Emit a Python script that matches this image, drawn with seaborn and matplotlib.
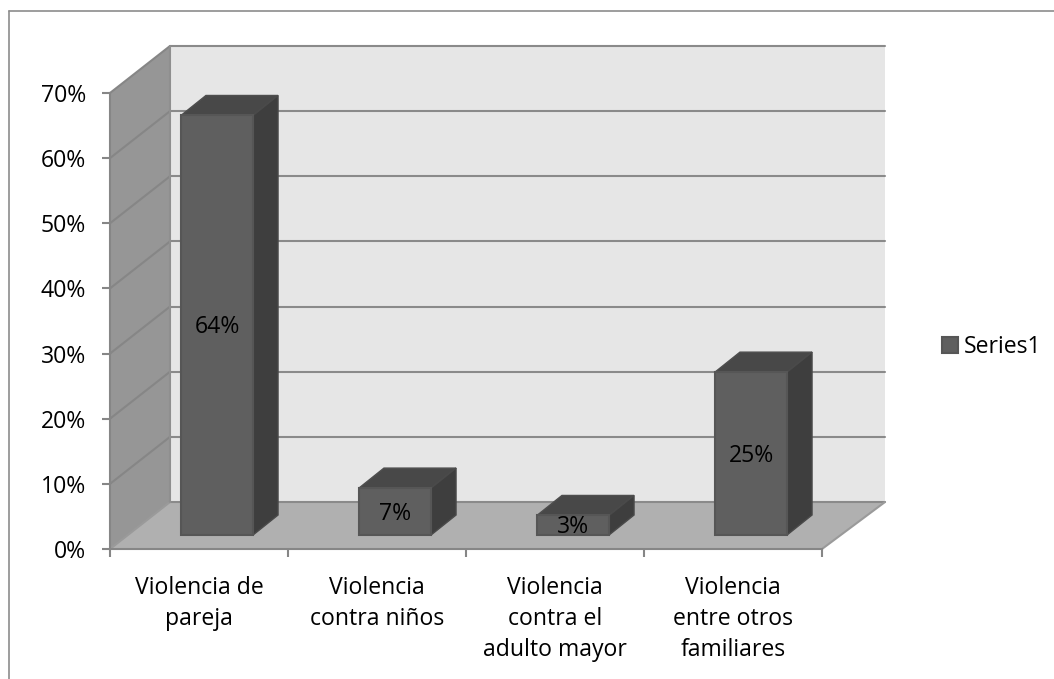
import matplotlib
matplotlib.use("Agg")
import matplotlib.pyplot as plt
import matplotlib.transforms as mtrans
from matplotlib.patches import Polygon
import seaborn as sns

categories = ["Violencia de\npareja", "Violencia\ncontra niños",
              "Violencia\ncontra el\nadulto mayor", "Violencia\nentre otros\nfamiliares"]
values = [0.644, 0.072, 0.03, 0.25]
y_ticks = [0, 0.1, 0.2, 0.3, 0.4, 0.5, 0.6, 0.7]
y_labels = ["0%", "10%", "20%", "30%", "40%", "50%", "60%", "70%"]
series_name = "Series1"

sns.set_style("white")
plt.rcParams["font.family"] = ["Open Sans", "DejaVu Sans"]

W, H = 1054, 679
# pixel offsets of the fake 3d look
WALL_DX, WALL_DX_R, WALL_DY = 60, 63, 47
BAR_DX, BAR_DY = 18, 14
DEPTH_DX, DEPTH_DY = 25, 20
FONT = 16.6

fig = plt.figure(figsize=(W / 100, H / 100), dpi=100)
ax = fig.add_axes([110 / W, (H - 549) / H, 712 / W, 456 / H])

sns.barplot(x=categories, y=values, color="#5f5f5f", saturation=1, width=0.405,
            label=series_name, edgecolor="#565656", linewidth=1.5, ax=ax, zorder=5)
ax.set_xlim(-0.5, 3.5)
ax.set_ylim(0, 0.7)
ax.patch.set_visible(False)


def px(x, y, dx=0, dy=0):
    p = ax.transData.transform((x, y))
    return (p[0] + dx, p[1] + dy)


def add_poly(points, color, z, edge="none"):
    fig.add_artist(Polygon(points, closed=True, facecolor=color, edgecolor=edge, linewidth=1,
                           transform=mtrans.IdentityTransform(), zorder=z))


def add_line(p0, p1, color="#8a8a8a", lw=1.5, z=-4):
    fig.add_artist(plt.Line2D([p0[0], p1[0]], [p0[1], p1[1]], color=color, linewidth=lw,
                              transform=mtrans.IdentityTransform(), zorder=z))


x0, x1 = -0.5, 3.5
# walls and floor
add_poly([px(x0, 0, WALL_DX, WALL_DY), px(x1, 0, WALL_DX_R, WALL_DY),
          px(x1, 0.7, WALL_DX_R, WALL_DY), px(x0, 0.7, WALL_DX, WALL_DY)], "#e6e6e6", -7)
add_poly([px(x0, 0), px(x0, 0.7), px(x0, 0.7, WALL_DX, WALL_DY), px(x0, 0, WALL_DX, WALL_DY)],
         "#969696", -6)
add_poly([px(x0, 0), px(x1, 0), px(x1, 0, WALL_DX_R, WALL_DY), px(x0, 0, WALL_DX, WALL_DY)],
         "#b0b0b0", -5)

for t in y_ticks:
    add_line(px(x0, t, WALL_DX, WALL_DY), px(x1, t, WALL_DX_R, WALL_DY))
    add_line(px(x0, t), px(x0, t, WALL_DX, WALL_DY), color="#868686" if t > 0 else "#9a9a9a")
add_line(px(x0, 0, WALL_DX, WALL_DY), px(x0, 0.7, WALL_DX, WALL_DY), color="#8f8f8f")
add_line(px(x1, 0), px(x1, 0, WALL_DX_R, WALL_DY), color="#9a9a9a")

# move bars back onto the floor, then add the top and side faces
shift = mtrans.Affine2D().translate(BAR_DX, BAR_DY)
for bar, v in zip(ax.patches, values):
    bar.set_transform(ax.transData + shift)
    bar.set_clip_on(False)
    left, right = bar.get_x(), bar.get_x() + bar.get_width()
    dx, dy = BAR_DX, BAR_DY
    add_poly([px(left, v, dx, dy), px(right, v, dx, dy),
              px(right, v, dx + DEPTH_DX, dy + DEPTH_DY), px(left, v, dx + DEPTH_DX, dy + DEPTH_DY)],
             "#484848", -2, edge="#4e4e4e")
    add_poly([px(right, 0, dx, dy), px(right, v, dx, dy),
              px(right, v, dx + DEPTH_DX, dy + DEPTH_DY), px(right, 0, dx + DEPTH_DX, dy + DEPTH_DY)],
             "#3e3e3e", -2, edge="#4a4a4a")
    ax.annotate(f"{v:.0%}", xy=(bar.get_x() + bar.get_width() / 2, v / 2),
                xytext=(BAR_DX, BAR_DY - 2), textcoords="offset pixels",
                ha="center", va="center", fontsize=FONT, color="black", zorder=6, annotation_clip=False)

# axes
sns.despine(ax=ax, top=True, right=True)
for side in ["left", "bottom"]:
    ax.spines[side].set_color("#868686")
    ax.spines[side].set_linewidth(1.5)
ax.set_yticks(y_ticks, y_labels)
ax.tick_params(axis="y", which="major", left=True, length=5.8, width=1.5, color="#868686",
               labelsize=FONT, pad=11.5, labelcolor="black")
ax.set_xticks([i - 0.5 for i in range(5)], minor=True)
ax.tick_params(axis="x", which="minor", bottom=True, length=5.8, width=1.5, color="#868686")
ax.tick_params(axis="x", which="major", bottom=False, labelsize=FONT, pad=16, labelcolor="black")
for lab in ax.get_xticklabels():
    lab.set_linespacing(1.4)
    lab.set_va("top")

ax.legend(loc="center left", bbox_to_anchor=(942 / W, (H - 347) / H), bbox_transform=fig.transFigure,
          frameon=False, fontsize=FONT, handlelength=0.69, handleheight=0.69, handletextpad=0.26,
          borderpad=0, borderaxespad=0, labelcolor="black")

# chart area border, only top and left are inside the picture
add_line((8.5, 0), (8.5, H - 10.5), color="#8c8c8c", lw=1.2, z=-8)
add_line((8.5, H - 10.5), (W, H - 10.5), color="#8c8c8c", lw=1.2, z=-8)

fig.savefig("out.png", dpi=100)
